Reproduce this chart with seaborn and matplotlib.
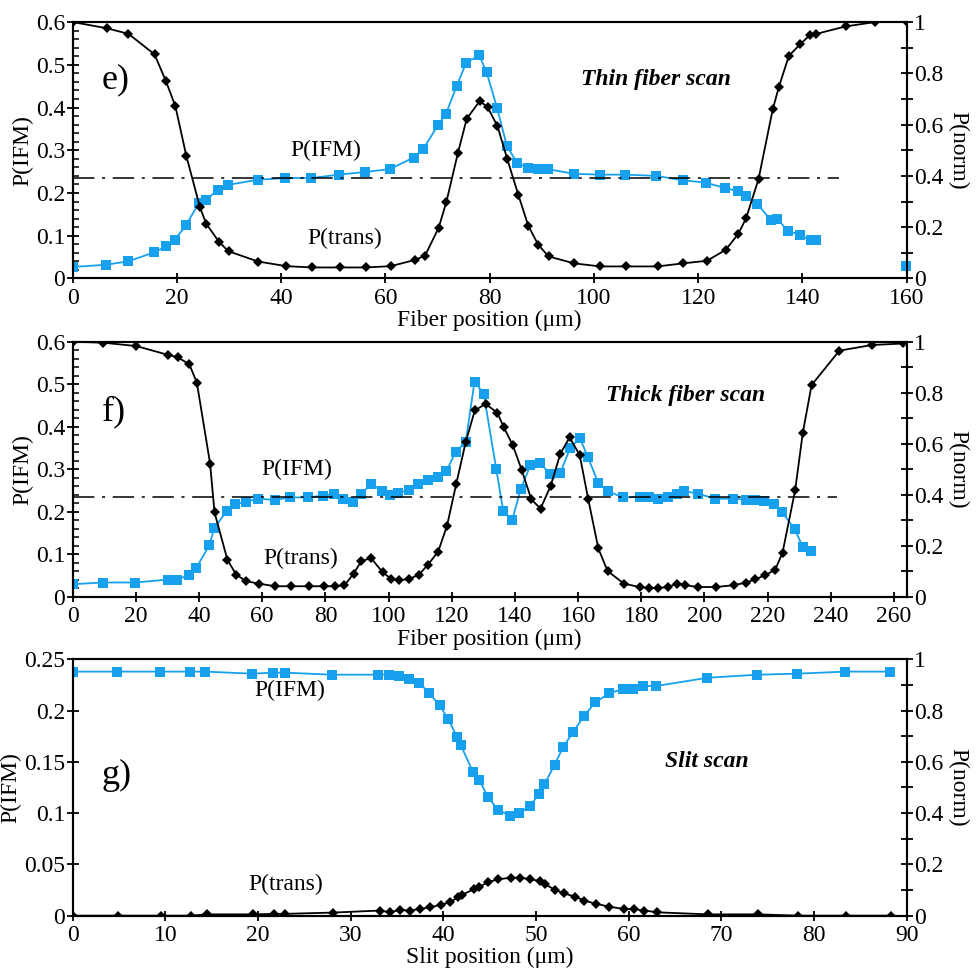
import seaborn as sns
import matplotlib.pyplot as plt
import matplotlib.ticker as mticker
import numpy as np
import pandas as pd

sns.set_style('ticks')
plt.rcParams['font.family'] = ['Liberation Serif', 'DejaVu Serif']
plt.rcParams['font.size'] = 16
for k in ['text.color', 'axes.labelcolor', 'xtick.color', 'ytick.color', 'axes.edgecolor']:
    plt.rcParams[k] = 'black'

BLUE = '#17a0ee'
BLACK = 'black'

# ---- e) thin fiber scan ----
thin_x_trans = [0, 6.5, 10.7, 15.7, 17.9, 19.7, 21.8, 24.4, 25.6, 28.1,
                29.9, 35.6, 41.0, 46.0, 51.3, 56.2, 61.0, 65.6, 67.6, 70.2,
                71.7, 73.9, 75.6, 78.1, 79.6, 81.5, 83.4, 85.5, 87.4, 89.3,
                91.3, 96.2, 101.2, 106.2, 112.2, 117.1, 121.7, 125.3, 127.7, 129.2,
                131.6, 134.3, 135.5, 137.4, 139.6, 141.4, 142.7, 148.3, 154.0, 160.0]
thin_trans = [1.0, 0.976, 0.954, 0.874, 0.769, 0.672, 0.478, 0.279, 0.214, 0.142,
              0.106, 0.066, 0.048, 0.043, 0.043, 0.043, 0.048, 0.072, 0.089, 0.197,
              0.299, 0.489, 0.623, 0.692, 0.668, 0.594, 0.464, 0.326, 0.206, 0.132,
              0.086, 0.059, 0.047, 0.047, 0.047, 0.059, 0.069, 0.112, 0.174, 0.235,
              0.389, 0.659, 0.748, 0.868, 0.914, 0.948, 0.954, 0.983, 1.0, 1.0]
thin_x_ifm = [0, 6.3, 10.6, 15.6, 17.9, 19.6, 21.7, 24.2, 25.6, 27.9,
              29.8, 35.5, 40.8, 45.8, 51.1, 56.0, 60.9, 65.4, 67.3, 70.1,
              71.6, 73.7, 75.5, 78.0, 79.4, 81.4, 83.3, 85.3, 87.3, 89.2,
              91.1, 96.1, 101.1, 106.0, 112.0, 117.0, 121.5, 125.1, 127.6, 129.1,
              131.3, 134.0, 135.2, 137.2, 139.5, 141.6, 142.7]
thin_ifm = [0.027, 0.032, 0.040, 0.061, 0.075, 0.091, 0.124, 0.176, 0.184, 0.208,
            0.219, 0.231, 0.235, 0.235, 0.243, 0.249, 0.256, 0.283, 0.304, 0.359,
            0.385, 0.451, 0.505, 0.522, 0.483, 0.400, 0.310, 0.270, 0.259, 0.256,
            0.256, 0.245, 0.243, 0.243, 0.240, 0.230, 0.224, 0.212, 0.204, 0.194,
            0.175, 0.136, 0.139, 0.112, 0.102, 0.089, 0.089]
thin_stray_x = [159.9]
thin_stray_ifm = [0.030]
thin_ref_level = 0.235
thin_ref_end = 147

# ---- f) thick fiber scan ----
thick_x_trans = [0, 9.7, 20.1, 30.3, 33.2, 36.9, 39.3, 43.5, 44.9, 49.0,
                 51.8, 54.9, 59.0, 64.1, 69.2, 74.7, 79.5, 83.0, 86.0, 88.9,
                 91.3, 94.4, 98.1, 100.8, 103.4, 106.6, 109.6, 112.5, 115.7, 118.5,
                 121.4, 124.4, 127.3, 130.7, 134.4, 136.5, 139.3, 142.1, 145.2, 148.1,
                 151.3, 154.4, 157.3, 160.5, 163.2, 166.4, 169.3, 174.5, 179.5, 182.3,
                 185.4, 188.3, 191.4, 193.8, 198.1, 203.6, 209.2, 213.1, 216.0, 219.2,
                 222.4, 224.7, 228.7, 231.1, 233.9, 242.7, 253.0, 263.0]
thick_trans = [1.0, 0.996, 0.983, 0.948, 0.939, 0.912, 0.840, 0.522, 0.331, 0.145,
               0.087, 0.062, 0.052, 0.042, 0.042, 0.042, 0.042, 0.042, 0.045, 0.091,
               0.139, 0.153, 0.097, 0.071, 0.065, 0.071, 0.087, 0.127, 0.178, 0.279,
               0.442, 0.606, 0.731, 0.756, 0.722, 0.664, 0.595, 0.499, 0.382, 0.346,
               0.435, 0.562, 0.625, 0.556, 0.383, 0.190, 0.102, 0.052, 0.039, 0.035,
               0.035, 0.039, 0.052, 0.046, 0.039, 0.039, 0.046, 0.056, 0.069, 0.085,
               0.107, 0.173, 0.418, 0.641, 0.830, 0.965, 0.987, 0.993]
thick_x_ifm = [0, 9.7, 19.8, 30.3, 33.0, 36.7, 39.1, 43.2, 44.8, 48.8,
               51.5, 54.9, 58.8, 63.9, 68.9, 74.5, 79.1, 82.8, 85.6, 88.7,
               91.3, 94.5, 97.9, 100.6, 103.0, 106.4, 109.2, 112.4, 115.6, 118.3,
               121.2, 124.4, 127.2, 130.1, 134.1, 136.3, 139.1, 141.8, 144.9, 147.9,
               151.1, 154.4, 157.4, 160.5, 163.1, 166.3, 169.3, 174.2, 179.5, 182.3,
               185.3, 188.3, 191.2, 193.5, 197.8, 203.4, 208.9, 213.1, 215.9, 218.9,
               222.1, 224.5, 228.6, 231.1, 233.7]
thick_ifm = [0.030, 0.034, 0.034, 0.041, 0.041, 0.051, 0.068, 0.121, 0.161, 0.203,
             0.218, 0.224, 0.231, 0.228, 0.234, 0.234, 0.238, 0.242, 0.230, 0.224,
             0.243, 0.265, 0.249, 0.240, 0.245, 0.251, 0.265, 0.274, 0.283, 0.295,
             0.341, 0.364, 0.506, 0.478, 0.300, 0.202, 0.180, 0.253, 0.310, 0.314,
             0.290, 0.292, 0.349, 0.374, 0.329, 0.269, 0.249, 0.234, 0.235, 0.235,
             0.231, 0.235, 0.243, 0.249, 0.243, 0.231, 0.231, 0.229, 0.229, 0.225,
             0.218, 0.200, 0.159, 0.118, 0.108]
thick_ref_level = 0.235
thick_ref_end = 242

# ---- g) slit scan ----
slit_x_trans = [0, 4.9, 9.5, 12.8, 14.5, 19.5, 21.7, 22.9, 28.1, 33.2,
                34.2, 35.3, 36.4, 37.5, 38.6, 39.7, 40.7, 41.6, 42.0, 43.3,
                43.9, 44.8, 45.9, 47.3, 48.3, 49.4, 50.4, 51.0, 52.1, 53.0,
                54.2, 55.2, 56.5, 57.9, 59.5, 60.6, 61.7, 63.1, 68.6, 74.0,
                78.3, 83.5, 88.3]
slit_trans = [0, 0, 0, 0, 0.005, 0.005, 0.007, 0.007, 0.012, 0.020,
              0.013, 0.022, 0.020, 0.026, 0.033, 0.042, 0.052, 0.072, 0.081, 0.103,
              0.113, 0.130, 0.142, 0.148, 0.148, 0.142, 0.135, 0.122, 0.100, 0.087,
              0.074, 0.059, 0.046, 0.035, 0.026, 0.025, 0.020, 0.013, 0.005, 0.005,
              0, 0, 0]
slit_x_ifm = [0, 4.8, 9.4, 12.7, 14.3, 19.4, 21.6, 22.9, 28.0, 33.0,
              34.1, 35.2, 36.3, 37.4, 38.5, 39.6, 40.5, 41.5, 41.9, 43.2,
              43.9, 44.8, 45.9, 47.2, 48.2, 49.4, 50.3, 50.9, 52.0, 52.9,
              54.0, 55.2, 56.4, 57.9, 59.4, 60.5, 61.6, 63.0, 68.5, 73.9,
              78.2, 83.4, 88.2]
slit_ifm = [0.238, 0.238, 0.238, 0.238, 0.238, 0.236, 0.237, 0.237, 0.235, 0.235,
            0.235, 0.234, 0.231, 0.227, 0.217, 0.205, 0.192, 0.174, 0.166, 0.140,
            0.132, 0.116, 0.103, 0.0975, 0.100, 0.107, 0.119, 0.128, 0.147, 0.164,
            0.179, 0.195, 0.208, 0.217, 0.221, 0.221, 0.224, 0.224, 0.232, 0.235,
            0.236, 0.238, 0.238]


def fmt(v, pos):
    return f'{v:g}'


def draw_panel(rect, x_ifm, ifm, x_trans, trans, xmax, xstep, ymax, ystep, yminor,
               xlabel, letter, title, lab_ifm, lab_trans, letter_y, title_xy,
               ref=None):
    ax = fig.add_axes(rect)
    sns.lineplot(x=x_ifm, y=ifm, ax=ax, color=BLUE, marker='s', markersize=6.5,
                 markeredgewidth=0, linewidth=1.3, estimator=None, sort=False)
    if ref is not None:
        ax.plot([0, ref[1]], [ref[0], ref[0]], color=BLACK, linewidth=1.1,
                linestyle=(0, (14, 5, 2, 5)))
    ax.set_xlim(0, xmax)
    ax.set_ylim(0, ymax)
    ax.xaxis.set_major_locator(mticker.MultipleLocator(xstep))
    ax.yaxis.set_major_locator(mticker.MultipleLocator(ystep))
    if yminor:
        ax.yaxis.set_minor_locator(mticker.MultipleLocator(yminor))
    ax.xaxis.set_major_formatter(mticker.FuncFormatter(fmt))
    ax.yaxis.set_major_formatter(mticker.FuncFormatter(fmt))
    ax.tick_params(axis='y', which='major', direction='inout', length=9, width=1.3,
                   labelsize=17, pad=1)
    ax.tick_params(axis='y', which='minor', direction='in', length=4, width=1.1)
    ax.tick_params(axis='x', which='major', direction='inout', length=7, width=1.3,
                   labelsize=17, pad=3)
    ax.set_xlabel(xlabel, fontsize=17, labelpad=1)
    ax.set_ylabel('P(IFM)', fontsize=17, labelpad=2)
    for s in ax.spines.values():
        s.set_linewidth(1.5)

    ax2 = ax.twinx()
    sns.lineplot(x=x_trans, y=trans, ax=ax2, color=BLACK, marker='D', markersize=5.5,
                 markeredgewidth=0, linewidth=1.3, estimator=None, sort=False)
    ax2.set_ylim(0, 1)
    ax2.yaxis.set_major_locator(mticker.MultipleLocator(0.2))
    ax2.yaxis.set_minor_locator(mticker.MultipleLocator(0.1))
    ax2.yaxis.set_major_formatter(mticker.FuncFormatter(fmt))
    ax2.tick_params(axis='y', which='both', direction='inout', length=9, width=1.3,
                    labelsize=17, pad=1)
    ax2.set_ylabel('P(norm)', fontsize=17, rotation=270, va='center')
    ax2.yaxis.set_label_coords(1.0615, 0.5)
    ax2.set_ylabel(ax2.get_ylabel())
    for s in ax2.spines.values():
        s.set_linewidth(1.5)

    ax.text(0.035, letter_y, letter, transform=ax.transAxes, fontsize=26,
            va='center', ha='left')
    ax.text(title_xy[0], title_xy[1], title, transform=ax.transAxes, fontsize=17,
            fontweight='bold', fontstyle='italic', ha='center', va='center')
    ax.text(lab_ifm[0], lab_ifm[1], 'P(IFM)', transform=ax.transAxes, fontsize=17,
            ha='center', va='center')
    ax.text(lab_trans[0], lab_trans[1], 'P(trans)', transform=ax.transAxes, fontsize=17,
            ha='center', va='center')
    return ax, ax2


fig = plt.figure(figsize=(9.77, 9.71), dpi=100)

ax_e, _ = draw_panel([0.0744, 0.7132, 0.8536, 0.2641], thin_x_ifm, thin_ifm,
                     thin_x_trans, thin_trans, 160, 20, 0.6, 0.1, 0.02,
                     'Fiber position (μm)', 'e)', 'Thin fiber scan',
                     (0.303, 0.50), (0.326, 0.155), 0.775, (0.699, 0.775),
                     ref=(thin_ref_level, thin_ref_end))
sns.scatterplot(x=thin_stray_x, y=thin_stray_ifm, ax=ax_e, color=BLUE, marker='s',
                s=45, linewidth=0, clip_on=False, zorder=5)

draw_panel([0.0744, 0.3852, 0.8536, 0.2629], thick_x_ifm, thick_ifm,
           thick_x_trans, thick_trans, 264, 20, 0.6, 0.1, 0.02,
           'Fiber position (μm)', 'f)', 'Thick fiber scan',
           (0.269, 0.50), (0.273, 0.152), 0.725, (0.735, 0.79),
           ref=(thick_ref_level, thick_ref_end))

draw_panel([0.0744, 0.0570, 0.8536, 0.2640], slit_x_ifm, slit_ifm,
           slit_x_trans, slit_trans, 90, 10, 0.25, 0.05, None,
           'Slit position (μm)', 'g)', 'Slit scan',
           (0.26, 0.88), (0.255, 0.12), 0.545, (0.76, 0.60))

fig.savefig('out.png', dpi=100)
